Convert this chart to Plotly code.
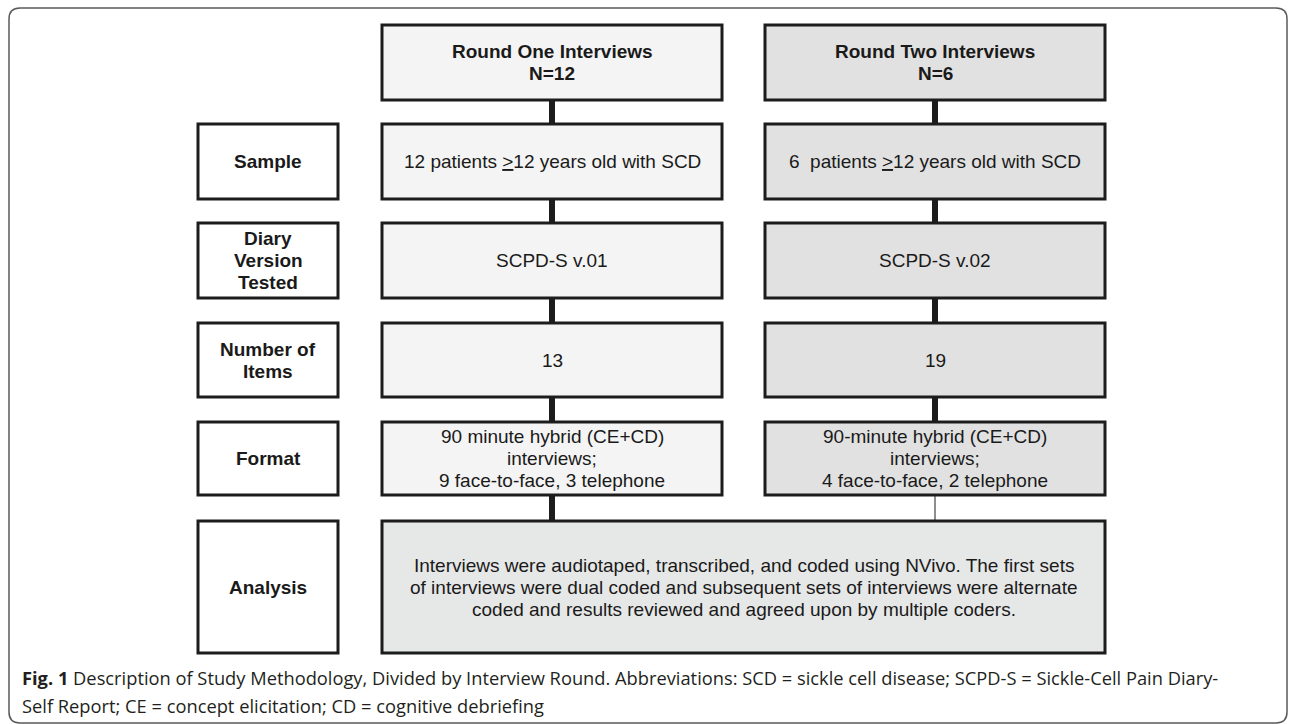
import plotly.graph_objects as go

# ---- content ----
row_labels = ["Sample", "Diary<br>Version<br>Tested", "Number of<br>Items", "Format", "Analysis"]
round_headers = ["Round One Interviews<br>N=12", "Round Two Interviews<br>N=6"]
round_one = [
    "12 patients <span style='text-decoration:underline'>></span>12 years old with SCD",
    "SCPD-S v.01",
    "13",
    "90 minute hybrid (CE+CD)<br>interviews;<br>9 face-to-face, 3 telephone",
]
round_two = [
    "6  patients <span style='text-decoration:underline'>></span>12 years old with SCD",
    "SCPD-S v.02",
    "19",
    "90-minute hybrid (CE+CD)<br>interviews;<br>4 face-to-face, 2 telephone",
]
analysis_text = ("Interviews were audiotaped, transcribed, and coded using NVivo. The first sets<br>"
                 "of interviews were dual coded and subsequent sets of interviews were alternate<br>"
                 "coded and results reviewed and agreed upon by multiple coders.")
caption_1 = ("<b>Fig. 1</b> Description of Study Methodology, Divided by Interview Round. "
             "Abbreviations: SCD = sickle cell disease; SCPD-S = Sickle-Cell Pain Diary-")
caption_2 = "Self Report; CE = concept elicitation; CD = cognitive debriefing"

# ---- layout geometry (pixels) ----
W, H = 1290, 724
label_x = (198, 338)
col_x = [(382, 722), (765, 1105)]
header_y = (25, 100)
row_y = [(124, 199), (223, 298), (323, 397), (422, 495), (521, 653)]
col_fill = ["#f4f4f4", "#e1e1e1"]
analysis_fill = "#e6e7e7"
edge = "#1c1c1c"
txt = "#1a1a1a"
box_font = "Arial, Liberation Sans, sans-serif"
FS = 19
LH = 22

fig = go.Figure()
shapes = []
annotations = []

def box(x0, x1, y0, y1, fill, lw=3):
    shapes.append(dict(type="rect", xref="x", yref="y", x0=x0, x1=x1, y0=y0, y1=y1,
                       fillcolor=fill, line=dict(color=edge, width=lw), layer="above"))

def label(x, y, text, bold=False, size=FS, lh=LH):
    lines = text.split("<br>")
    n = len(lines)
    for i, ln in enumerate(lines):
        t = "<b>" + ln + "</b>" if bold else ln
        annotations.append(dict(x=x, y=y + (i - (n - 1) / 2) * lh, xref="x", yref="y",
                                text=t, showarrow=False,
                                font=dict(family=box_font, size=size, color=txt),
                                align="center", xanchor="center", yanchor="middle"))

def vline(x, y0, y1, w):
    shapes.append(dict(type="line", xref="x", yref="y", x0=x, x1=x, y0=y0, y1=y1,
                       line=dict(color=edge, width=w), layer="above"))

# outer rounded frame
r = 11
fx0, fy0, fx1, fy1 = 9, 8, 1287, 723
path = (f"M {fx0+r},{fy0} L {fx1-r},{fy0} Q {fx1},{fy0} {fx1},{fy0+r} "
        f"L {fx1},{fy1-r} Q {fx1},{fy1} {fx1-r},{fy1} L {fx0+r},{fy1} "
        f"Q {fx0},{fy1} {fx0},{fy1-r} L {fx0},{fy0+r} Q {fx0},{fy0} {fx0+r},{fy0} Z")
shapes.append(dict(type="path", xref="x", yref="y", path=path,
                   line=dict(color="#5a5a5a", width=1.5), fillcolor="rgba(0,0,0,0)", layer="below"))

# connectors
for ci, (cx0, cx1) in enumerate(col_x):
    cx = (cx0 + cx1) / 2
    ys = [header_y] + row_y
    for k in range(len(ys) - 1):
        thin = (ci == 1 and k == len(ys) - 2)
        vline(cx, ys[k][1], ys[k + 1][0], 1 if thin else 6)

# header boxes
for ci, (cx0, cx1) in enumerate(col_x):
    box(cx0, cx1, header_y[0], header_y[1], col_fill[ci])
    label((cx0 + cx1) / 2, (header_y[0] + header_y[1]) / 2, round_headers[ci], bold=True)

# row label boxes
for ri, (y0, y1) in enumerate(row_y):
    box(label_x[0], label_x[1], y0, y1, "white")
    label((label_x[0] + label_x[1]) / 2, (y0 + y1) / 2, row_labels[ri], bold=True)

# value boxes
for ci, vals in enumerate([round_one, round_two]):
    cx0, cx1 = col_x[ci]
    for ri, v in enumerate(vals):
        y0, y1 = row_y[ri]
        box(cx0, cx1, y0, y1, col_fill[ci])
        label((cx0 + cx1) / 2, (y0 + y1) / 2, v)

# analysis box
y0, y1 = row_y[-1]
box(col_x[0][0], col_x[1][1], y0, y1, analysis_fill)
label((col_x[0][0] + col_x[1][1]) / 2, 587, analysis_text)

# caption
cap_font = "Open Sans, Lato, sans-serif"
for yy, t in [(677, caption_1), (705, caption_2)]:
    annotations.append(dict(x=20, y=yy, xref="x", yref="y", text=t, showarrow=False,
                            font=dict(family=cap_font, size=18.3, color="#231f20"),
                            xanchor="left", yanchor="middle", align="left"))

fig.update_layout(
    width=W, height=H,
    margin=dict(l=0, r=0, t=0, b=0),
    paper_bgcolor="white", plot_bgcolor="white",
    xaxis=dict(range=[0, W], visible=False, fixedrange=True),
    yaxis=dict(range=[H, 0], visible=False, fixedrange=True),
    shapes=shapes, annotations=annotations, showlegend=False,
)
fig.write_html("out.html", config={"displayModeBar": False},
               post_script="document.body.style.margin='0';document.body.style.overflow='hidden';")
